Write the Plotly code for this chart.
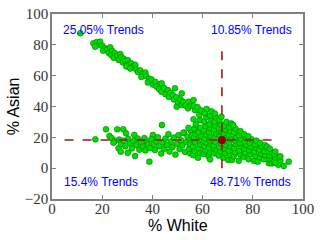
import plotly.graph_objects as go

# Diagonal band (upper-left trend)
band_white = [11.3, 16.5, 17.8, 18.6, 19.2, 17.2, 20.0, 21.0, 20.4, 22.0, 22.6, 23.2, 24.0, 23.6, 25.0,
              24.6, 26.0, 26.6, 27.2, 27.6, 28.6, 28.2, 29.2, 30.2, 30.6, 29.6, 31.6, 32.2, 31.2, 33.2,
              33.6, 34.2, 35.2, 36.2, 35.6, 37.2, 37.6, 38.6, 38.2, 39.6, 40.2, 41.2, 41.6, 42.6, 43.2,
              43.7, 43.6, 44.6, 45.2, 46.2, 46.6, 47.2, 49.0, 48.2, 48.6, 49.6, 49.7, 50.2, 51.2, 51.7,
              51.6, 52.2, 53.2, 54.4, 54.2, 55.2, 56.4, 56.4, 57.0, 58.0]
band_asian = [87.5, 81.0, 81.8, 80.2, 82.0, 78.8, 79.4, 77.8, 76.2, 77.2, 74.8, 78.4, 76.0, 73.4, 74.6,
              71.6, 73.2, 70.2, 74.0, 72.0, 71.0, 68.6, 69.6, 70.0, 67.4, 66.0, 68.0, 66.0, 64.6, 67.0,
              64.0, 62.4, 63.4, 61.2, 59.2, 62.0, 59.6, 58.0, 55.6, 57.6, 54.2, 56.0, 53.0, 51.4, 54.6,
              55.0, 49.6, 52.0, 48.0, 50.6, 46.2, 49.0, 51.8, 47.4, 44.6, 46.0, 39.9, 42.6, 44.6, 48.5,
              41.0, 43.0, 40.6, 43.1, 38.8, 40.6, 44.2, 40.3, 37.6, 39.6]

# Horizontal band + dense lower cluster
cluster_white = [17.3, 21.5, 22.9, 23.8, 25.1, 24.5, 26.0, 28.4, 29.5, 26.5, 27.4, 30.2, 33.1, 32.8, 38.8,
                 40.2, 37.8, 26.8, 27.5, 28.6, 29.2, 30.4, 31.0, 31.8, 32.5, 33.6, 34.2, 34.8, 35.5, 36.2,
                 36.8, 37.2, 38.2, 39.0, 39.6, 40.5, 41.0, 41.6, 42.2, 42.8, 43.5, 44.0, 44.6, 45.2, 45.8,
                 46.4, 46.8, 47.4, 48.0, 48.6, 49.2, 49.8, 50.4, 50.8, 51.4, 52.0, 52.6, 53.0, 53.6, 54.0,
                 43.8, 52.4, 55.0,
                 54.6, 54.9, 55.3, 55.7, 55.2, 54.4,
                 56.3, 56.8, 56.2, 57.0, 56.5, 57.2, 56.7, 56.4, 57.3,
                 58.2, 58.8, 58.4, 59.1, 58.6, 59.2, 58.3, 59.0, 59.0, 58.7, 59.4,
                 60.4, 61.0, 60.6, 61.3, 60.8, 61.4, 60.5, 61.2, 60.7, 61.5, 60.9, 61.6,
                 62.4, 63.0, 62.6, 63.3, 62.8, 63.4, 62.5, 63.1, 62.7, 63.5, 62.9, 63.6,
                 63.0, 64.6, 65.2, 64.4, 65.0, 64.7, 65.4, 64.5, 65.1, 64.8, 65.5, 64.9,
                 66.4, 67.0, 66.6, 67.3, 66.8, 67.4, 66.5, 67.1, 66.7, 67.5,
                 68.3, 69.0, 68.6, 69.2, 68.8, 69.4, 68.4, 69.1, 68.7, 69.5,
                 70.2, 71.7, 70.8, 70.4, 71.1, 70.6, 71.3, 70.3, 71.0, 70.7, 71.4,
                 72.4, 73.0, 72.6, 73.3, 72.8, 73.4, 72.5, 73.1, 72.2,
                 74.4, 75.0, 74.6, 75.3, 74.8, 75.4, 74.5, 75.1,
                 76.4, 77.0, 76.6, 77.3, 76.8, 77.4, 76.5,
                 78.3, 79.0, 78.6, 79.2, 78.8, 79.4, 78.2,
                 80.4, 81.0, 80.6, 81.3, 80.8, 81.4,
                 82.0, 82.8, 83.3, 82.6, 83.4, 82.9,
                 84.4, 85.0, 84.6, 85.3, 84.8,
                 85.6, 86.4, 87.0, 86.6, 87.3, 86.8,
                 87.6, 88.4, 89.0, 88.6, 89.0,
                 90.2, 91.0, 90.6, 91.0,
                 92.3, 94.3, 89.0]
cluster_asian = [18.7, 25.2, 20.9, 19.4, 17.8, 16.5, 25.2, 25.2, 22.6, 12.9, 10.7, 10.0, 7.9, 21.5, 4.2,
                 21.5, 17.2, 18.5, 15.5, 17.8, 14.2, 19.0, 16.2, 12.8, 17.5, 15.0, 19.2, 12.0, 16.5, 14.0,
                 19.5, 11.5, 15.2, 13.0, 18.8, 15.8, 11.8, 17.6, 20.0, 14.2, 9.5, 16.8, 12.6, 19.2, 15.0,
                 22.0, 10.8, 17.2, 13.6, 19.8, 8.8, 15.8, 21.4, 12.4, 18.0, 14.8, 23.0, 10.6, 17.0, 20.4,
                 28.0, 23.0, 9.6,
                 12.6, 15.6, 18.6, 21.4, 24.6, 26.2,
                 8.4, 11.2, 14.0, 16.8, 19.6, 22.4, 25.6, 31.7, 28.4,
                 6.8, 10.0, 13.0, 15.4, 18.2, 20.8, 23.4, 26.2, 31.2, 34.6, 37.4,
                 9.2, 11.6, 14.2, 16.6, 19.2, 21.8, 24.4, 27.2, 30.0, 33.2, 35.8, 38.4,
                 7.8, 10.4, 13.0, 15.6, 18.0, 20.6, 23.2, 25.8, 28.4, 31.0, 34.0, 36.8,
                 5.7, 9.6, 12.2, 14.6, 17.2, 19.8, 22.2, 24.8, 27.4, 30.2, 32.8, 35.4,
                 8.2, 11.0, 13.6, 16.2, 21.2, 23.6, 26.2, 28.6, 31.2, 33.4,
                 6.8, 9.8, 12.6, 15.2, 17.6, 20.2, 22.6, 25.0, 27.6, 30.0,
                 5.4, 5.3, 8.8, 11.4, 14.0, 16.6, 19.0, 21.6, 24.0, 26.6, 29.0,
                 7.8, 10.4, 13.0, 15.6, 18.0, 20.4, 23.0, 25.6, 28.0,
                 4.8, 8.8, 11.4, 14.0, 16.4, 19.0, 21.4, 24.0,
                 7.4, 10.0, 12.6, 15.0, 17.4, 19.8, 22.0,
                 5.8, 9.0, 11.6, 14.0, 16.4, 18.8, 20.8,
                 4.8, 8.0, 10.6, 13.0, 15.4, 17.8,
                 4.2, 7.0, 9.4, 12.0, 14.4, 16.4,
                 5.8, 8.4, 11.0, 13.4, 15.0,
                 14.0, 3.2, 5.6, 8.0, 10.4, 12.6,
                 3.1, 4.2, 6.6, 9.0, 10.7,
                 2.2, 5.0, 7.4, 7.6,
                 1.4, 4.2, 3.5]

mean_white = 67.7
mean_asian = 18.3
vline_asian = [0.0, 80.0]
hline_white = [5.0, 89.0]

quadrant_labels = ["25.05% Trends", "10.85% Trends", "15.4% Trends", "48.71% Trends"]
label_white = [20.7, 79.3, 19.5, 79.2]
label_asian = [89.6, 89.6, -9.0, -9.0]

x_ticks = [0, 20, 40, 60, 80, 100]
y_ticks = [-20, 0, 20, 40, 60, 80, 100]

fig = go.Figure()
fig.add_trace(go.Scatter(
    x=band_white + cluster_white, y=band_asian + cluster_asian, mode="markers",
    marker=dict(size=5.8, color="#00dd00", line=dict(color="#008800", width=0.7)),
    hoverinfo="skip", showlegend=False))
fig.add_trace(go.Scatter(
    x=[mean_white, mean_white], y=vline_asian, mode="lines",
    line=dict(color="#a01818", width=1.6, dash="dash"), showlegend=False, hoverinfo="skip"))
fig.add_trace(go.Scatter(
    x=hline_white, y=[mean_asian, mean_asian], mode="lines",
    line=dict(color="#a01818", width=1.6, dash="dash"), showlegend=False, hoverinfo="skip"))
fig.add_trace(go.Scatter(
    x=[mean_white], y=[mean_asian], mode="markers",
    marker=dict(size=8, color="#8b0000"), showlegend=False, hoverinfo="skip"))

for t, lx, ly in zip(quadrant_labels, label_white, label_asian):
    fig.add_annotation(x=lx, y=ly, text=t, showarrow=False,
                       font=dict(family="Liberation Sans, Arial, sans-serif", size=12, color="#0000ff"))

title_font = dict(family="Liberation Sans, Arial, sans-serif", size=16, color="#000000")
fig.add_annotation(xref="paper", yref="paper", x=0.5, y=-0.143, xanchor="center", yanchor="middle",
                   text="% White", showarrow=False, font=title_font)
fig.add_annotation(xref="paper", yref="paper", x=-0.152, y=0.50, xanchor="center", yanchor="middle",
                   text="% Asian", textangle=-90, showarrow=False, font=title_font)

axis_common = dict(
    showgrid=False, zeroline=False, showline=True, linecolor="#808080", linewidth=1.5,
    mirror="ticks", ticks="inside", ticklen=4, tickwidth=1, tickcolor="#808080",
    tickfont=dict(family="Liberation Serif, Times New Roman, serif", size=15, color="#333333"),
    automargin=False, ticklabeloverflow="allow",
)
fig.update_xaxes(range=[0, 100], tickvals=x_ticks, ticklabelstandoff=-5, **axis_common)
fig.update_yaxes(range=[-20, 100], tickvals=y_ticks, ticklabelstandoff=-1, **axis_common)

fig.update_layout(
    width=320, height=240,
    margin=dict(l=52, r=17, t=14, b=41),
    paper_bgcolor="white", plot_bgcolor="white",
    showlegend=False,
)
fig.write_html("out.html", config={"displayModeBar": False},
               post_script="document.body.style.margin='0px';")
